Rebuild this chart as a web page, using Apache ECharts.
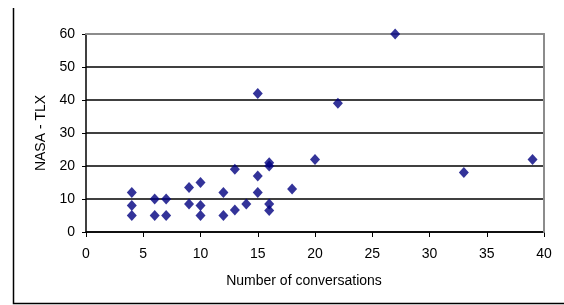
<!DOCTYPE html>
<html>
<head>
<meta charset="utf-8">
<script src="https://cdn.jsdelivr.net/npm/echarts@6/dist/echarts.min.js"></script>
<style>
  html, body { margin: 0; padding: 0; background: #fff; }
  #chart { width: 564px; height: 305px; }
</style>
</head>
<body>
<div id="chart"></div>
<script>
// conversations count vs NASA-TLX score
var conversations = [4, 4, 4, 6, 6, 7, 7, 9, 9, 10, 10, 10, 12, 12, 13, 13, 14, 15, 15, 15, 16, 16, 16, 16, 18, 20, 22, 27, 33, 39];
var tlx =           [12, 8, 5, 10, 5, 10, 5, 13.5, 8.5, 15, 8, 5, 12, 5, 19, 6.7, 8.5, 42, 17, 12, 20, 21, 8.5, 6.5, 13, 22, 39, 60, 18, 22];
var xTicks = [0, 5, 10, 15, 20, 25, 30, 35, 40];
var yTicks = [0, 10, 20, 30, 40, 50, 60];

var points = conversations.map(function (c, i) { return [c, tlx[i]]; });

var font = "'Liberation Sans', Arial, sans-serif";
var chart = echarts.init(document.getElementById("chart"), null, { renderer: "canvas" });

chart.setOption({
  animation: false,
  backgroundColor: "#fff",
  grid: { left: 86, right: 20, top: 34, bottom: 73 },
  graphic: [
    {
      type: "polyline",
      shape: { points: [[13.5, 8], [13.5, 303.5], [564, 303.5]] },
      style: { stroke: "#000", lineWidth: 1.5, fill: null }
    }
  ],
  xAxis: [
    {
      type: "value",
      min: xTicks[0],
      max: xTicks[xTicks.length - 1],
      interval: 5,
      name: "Number of conversations",
      nameLocation: "middle",
      nameGap: 42,
      nameTextStyle: { color: "#000", fontFamily: font, fontSize: 14, padding: [0, 22, 0, 0] },
      axisLine: { show: true, onZero: false, lineStyle: { color: "#000", width: 1.5 } },
      axisTick: { show: true, inside: false, length: 5, lineStyle: { color: "#000" } },
      axisLabel: { color: "#000", fontFamily: font, fontSize: 14, margin: 15 },
      splitLine: { show: false }
    },
    {
      type: "value",
      position: "top",
      min: xTicks[0],
      max: xTicks[xTicks.length - 1],
      interval: 5,
      axisLine: { show: true, onZero: false, lineStyle: { color: "#8c8c8c", width: 2 } },
      axisTick: { show: false },
      axisLabel: { show: false },
      splitLine: { show: false },
      z: 5
    }
  ],
  yAxis: [
    {
      type: "value",
      min: yTicks[0],
      max: yTicks[yTicks.length - 1],
      interval: 10,
      name: "NASA - TLX",
      nameLocation: "middle",
      nameGap: 37,
      nameTextStyle: { color: "#000", fontFamily: font, fontSize: 14 },
      axisLine: { show: true, onZero: false, lineStyle: { color: "#000", width: 1.5 } },
      axisTick: { show: true, inside: false, length: 4, lineStyle: { color: "#000" } },
      axisLabel: { color: "#000", fontFamily: font, fontSize: 14, margin: 11 },
      splitLine: { show: true, lineStyle: { color: "#000", width: 1.5 } }
    },
    {
      type: "value",
      position: "right",
      min: yTicks[0],
      max: yTicks[yTicks.length - 1],
      interval: 10,
      axisLine: { show: true, onZero: false, lineStyle: { color: "#8c8c8c", width: 2 } },
      axisTick: { show: false },
      axisLabel: { show: false },
      splitLine: { show: false },
      z: 5
    }
  ],
  series: [
    {
      type: "scatter",
      data: points,
      symbol: "diamond",
      symbolSize: [10, 11],
      itemStyle: { color: "#000080" },
      z: 10
    }
  ]
});
</script>
</body>
</html>
